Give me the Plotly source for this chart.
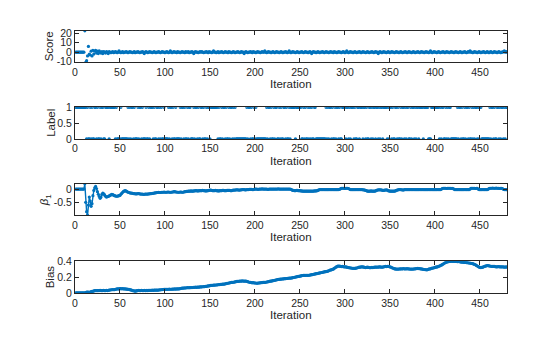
import plotly.graph_objects as go

# ---------------- data ----------------
iterations = list(range(1, 481))

score = [
    0,0,0,0,0,0,0,0,0,0,22.5,-10.8,-9,-4,6,-2,-3,1,-4,2,
    -2,1,2,-1,1,-1.5,1.5,0,-1,0.5,-1.5,0.5,0,-1,0.5,0,-1.5,0.5,0,-0.5,
    0,0.5,-0.5,0,0.5,0,-0.5,0,1.5,0,-0.5,0,0.5,-0.5,0,0,0.5,0,-0.5,0,
    0.5,0,0,-0.5,0,0.5,-0.5,0,0,0.5,0,-0.5,0,0,0.5,0,-1.5,0,0.5,0,
    -0.5,0,0.5,0,0,-0.5,0,0.5,0,-0.5,0,0,0.5,0,-0.5,0,0.5,0,0,-0.5,
    0,0.5,0,-0.5,0,1.5,0,-0.5,0,0.5,0,0,-0.5,0.5,0,0,-0.5,0,0.5,0,
    0,-0.5,0.5,0,0,0.5,-0.5,0,0,0.5,0,-1.5,0,0.5,0,0,-0.5,0,0.5,0,
    0.5,0,-0.5,0,0,0.5,0,-0.5,0.5,0,0,-0.5,0,1.5,0,0,-0.5,0,0.5,-0.5,
    0,0,0.5,0,-0.5,0,0.5,0,0,-0.5,0.5,0,0,-0.5,0,0.5,0,-0.5,0,0,
    0.5,0,-0.5,0,0.5,0,0,-1.5,0,0.5,0,-0.5,0,0,0.5,0,-0.5,0.5,0,0,
    -0.5,0,0.5,0,0,-0.5,0,0.5,0,0,1.5,0,-0.5,0,0.5,0,0,-0.5,0,0.5,
    0,-0.5,0,0.5,0,0,-0.5,0,0.5,0,-0.5,0,0,0.5,0,-0.5,0,1.5,0,-0.5,
    0,0.5,0,0,-0.5,0,0.5,0,-0.5,0,0,0.5,0,-0.5,0,0.5,0,0,-0.5,0,
    0.5,0,-1.5,0,0.5,0,0,-0.5,0,0.5,0,-0.5,0,0,0.5,0,-0.5,0,0.5,0,
    0,-0.5,0,0.5,0,0,-0.5,0.5,0,0,-0.5,0,0.5,0,0,-0.5,0,0.5,0,-0.5,
    0,1.5,0,-0.5,0,0.5,0,0,-0.5,0,0.5,0,-0.5,0,0,0.5,0,-0.5,0,0.5,
    0,0,-0.5,0,0.5,0,-0.5,0,0,0.5,0,-0.5,0,0.5,0,0,-1.5,0,0.5,0,
    -0.5,0,0.5,0,0,-0.5,0,0.5,0,-0.5,0,0.5,0,0,-0.5,0,0.5,0,0,-0.5,
    0,0.5,0,-0.5,0,0,0.5,0,-0.5,0,0.5,0,0,-0.5,0,0.5,0,-0.5,0,0,
    0.5,0,-0.5,0,0.5,0,0,-0.5,0,0.5,0,0,-0.5,0,1.5,0,-0.5,0,0.5,0,
    0,-0.5,0,0.5,0,-0.5,0,0,0.5,0,-0.5,0,0.5,0,0,-0.5,0,0.5,0,0,
    -0.5,0,0.5,0,0,-0.5,0,0.5,0,-0.5,0,0,0.5,0,-0.5,0,0.5,0,1.5,0,
    0,-0.5,0,0.5,0,0,-0.5,0,0.5,0,-0.5,0,0,0.5,0,-0.5,0,0.5,0,-0.5,
    0,0.5,0,-0.5,0,0.5,0,0,-0.5,0,0.5,0,-0.5,0,0,0.5,1.5,0,0.5,0,
]

label = [
    1,1,1,1,1,1,1,1,1,1,1,1,0,1,0,0,1,0,1,0,
    0,1,1,0,1,0,0,1,0,1,1,0,0,1,1,1,1,0,1,1,
    1,1,1,1,0,1,0,0,0,0,1,0,0,0,0,0,0,0,1,0,
    1,0,1,1,0,1,0,0,0,1,0,1,1,0,1,0,0,0,1,0,
    0,1,0,1,1,1,0,1,0,0,1,1,0,1,0,1,0,0,1,0,
    0,0,0,1,0,1,1,0,1,0,0,1,0,0,0,0,1,0,1,1,
    0,1,0,0,1,0,1,1,0,0,0,1,0,1,1,0,1,0,0,1,
    1,0,1,0,0,1,0,1,1,0,1,1,1,1,1,1,1,1,0,1,
    0,0,1,0,1,1,0,1,0,0,1,0,1,1,0,1,0,1,0,0,
    0,0,0,0,0,0,0,0,0,0,1,0,1,1,0,1,0,0,1,0,
    1,0,0,0,0,0,0,0,0,0,0,0,1,0,1,1,0,1,0,0,
    1,0,1,1,0,0,1,0,1,0,0,1,1,0,1,0,0,1,0,1,
    1,1,1,1,0,1,1,1,1,1,1,0,0,1,0,1,0,0,1,0,
    1,0,1,0,0,1,1,0,0,0,0,0,0,0,0,0,0,0,1,0,
    1,0,1,1,0,1,0,0,1,0,1,1,0,1,0,0,1,1,1,1,
    0,1,1,0,1,0,1,1,1,0,1,0,0,1,1,0,1,1,1,0,
    1,1,0,1,0,0,1,1,0,1,0,1,1,0,1,1,0,1,0,1,
    1,0,1,1,1,1,0,1,0,1,1,0,1,0,0,1,1,0,1,0,
    0,1,0,1,1,0,1,0,1,1,0,0,1,0,1,1,0,1,0,1,
    1,0,1,1,1,1,0,1,1,1,1,1,0,0,0,1,1,1,1,1,
    1,1,1,1,0,1,0,1,1,0,0,1,0,1,0,1,1,0,0,0,
    0,0,0,0,1,0,1,1,0,1,0,0,1,0,1,1,0,1,0,0,
    1,0,1,0,1,1,0,1,0,1,1,0,0,0,0,0,0,0,0,0,
    1,0,1,1,0,1,0,0,1,1,0,1,0,1,1,0,1,0,1,1,
]

beta1 = [
    0,0,0,0,0,0,0,0,0,0,0.2,-0.5,-0.85,-0.98,-0.6,-0.3,-0.45,-0.65,-0.55,-0.25,
    -0.05,0.05,0.1,0.02,-0.1,-0.2,-0.28,-0.35,-0.3,-0.2,-0.15,-0.18,-0.22,-0.27,-0.3,-0.29,-0.28,-0.26,-0.24,-0.22,
    -0.2,-0.21,-0.23,-0.25,-0.26,-0.27,-0.27,-0.26,-0.25,-0.24,-0.2,-0.16,-0.12,-0.09,-0.07,-0.06,-0.08,-0.1,-0.12,-0.13,
    -0.14,-0.15,-0.15,-0.16,-0.17,-0.17,-0.18,-0.18,-0.18,-0.17,-0.17,-0.18,-0.19,-0.19,-0.19,-0.2,-0.2,-0.19,-0.19,-0.19,
    -0.19,-0.18,-0.18,-0.17,-0.17,-0.16,-0.16,-0.15,-0.14,-0.14,-0.13,-0.13,-0.12,-0.13,-0.13,-0.12,-0.12,-0.12,-0.11,-0.12,
    -0.12,-0.12,-0.11,-0.11,-0.12,-0.12,-0.12,-0.11,-0.11,-0.1,-0.1,-0.11,-0.11,-0.12,-0.12,-0.12,-0.11,-0.11,-0.12,-0.12,
    -0.11,-0.1,-0.1,-0.09,-0.09,-0.08,-0.08,-0.08,-0.07,-0.08,-0.08,-0.07,-0.07,-0.06,-0.06,-0.07,-0.07,-0.06,-0.06,-0.06,
    -0.06,-0.05,-0.06,-0.06,-0.07,-0.07,-0.06,-0.06,-0.05,-0.04,-0.04,-0.05,-0.06,-0.06,-0.06,-0.05,-0.06,-0.06,-0.07,-0.07,
    -0.06,-0.06,-0.06,-0.05,-0.05,-0.06,-0.06,-0.06,-0.05,-0.05,-0.05,-0.05,-0.06,-0.06,-0.05,-0.04,-0.04,-0.04,-0.03,-0.03,
    -0.03,-0.04,-0.04,-0.03,-0.03,-0.02,-0.02,-0.02,-0.03,-0.03,-0.02,-0.02,-0.02,-0.01,-0.01,-0.01,-0.02,-0.02,-0.01,0,
    0,0,-0.01,-0.01,0,0,0,0.01,0,0,0,0,0,-0.01,-0.01,0,0,0,0,0,
    0,0,0,0,0,0.01,0,0,0,0,0,0,0,0,0,0,0,0,0,-0.01,
    -0.03,-0.05,-0.05,-0.06,-0.06,-0.05,-0.05,-0.06,-0.06,-0.06,-0.07,-0.07,-0.08,-0.08,-0.08,-0.08,-0.08,-0.08,-0.08,-0.08,
    -0.08,-0.08,-0.08,-0.08,-0.08,-0.07,-0.07,-0.07,-0.06,-0.05,-0.03,-0.02,-0.02,-0.02,-0.02,-0.02,-0.02,-0.02,-0.02,-0.02,
    -0.02,-0.02,-0.02,-0.02,-0.02,-0.02,-0.02,-0.02,-0.02,-0.02,-0.02,-0.02,-0.02,-0.01,0.01,0.03,0.03,0.03,0.03,0.02,
    0.03,0.03,0.03,0.02,0,-0.02,-0.02,-0.02,-0.02,-0.02,-0.02,-0.02,-0.02,-0.02,-0.02,-0.02,-0.02,-0.02,-0.02,-0.03,
    -0.03,-0.04,-0.05,-0.06,-0.08,-0.08,-0.08,-0.08,-0.07,-0.08,-0.08,-0.08,-0.08,-0.07,-0.05,-0.04,-0.03,-0.03,-0.03,-0.03,
    -0.04,-0.05,-0.05,-0.04,-0.04,-0.03,-0.04,-0.06,-0.07,-0.08,-0.08,-0.08,-0.08,-0.08,-0.08,-0.07,-0.05,-0.04,-0.03,-0.02,
    -0.02,-0.02,-0.03,-0.03,-0.04,-0.02,-0.02,-0.02,-0.02,-0.02,-0.02,-0.02,-0.02,-0.02,-0.02,-0.02,-0.02,-0.02,-0.02,-0.02,
    -0.02,-0.02,-0.02,-0.02,-0.02,-0.02,-0.02,-0.02,-0.02,-0.02,-0.02,-0.02,-0.02,-0.02,-0.02,-0.02,-0.02,-0.02,-0.02,-0.02,
    -0.02,-0.02,-0.02,-0.02,-0.02,-0.02,-0.01,0.02,0.03,0.03,0.03,0.03,0.02,0.03,0.03,0.03,0.03,0.02,0.03,0.02,
    0,-0.02,-0.02,-0.02,-0.02,-0.02,-0.02,-0.02,-0.02,-0.02,-0.02,-0.02,-0.02,-0.02,-0.02,-0.02,-0.02,-0.02,0,0.03,
    0.03,0.03,0.03,0.03,0.02,0.03,0.03,0,-0.02,-0.02,-0.02,-0.02,-0.02,-0.02,-0.02,-0.02,-0.02,-0.02,-0.01,0.02,
    0.03,0.03,0.03,0.04,0.03,0.03,0.03,0.04,0.03,0.03,0.03,0.02,0.03,0.03,0.02,-0.01,-0.02,-0.02,-0.02,-0.02,
]

bias = [
    0,0,0,0,0,0,0,0,0,0,0,0.005,0.01,0.01,0.01,0.008,0.01,0.015,0.02,0.02,
    0.025,0.028,0.03,0.03,0.028,0.03,0.03,0.032,0.03,0.03,0.03,0.032,0.03,0.03,0.033,0.03,0.032,0.035,0.037,0.04,
    0.04,0.042,0.04,0.042,0.045,0.048,0.05,0.052,0.05,0.053,0.055,0.052,0.053,0.052,0.05,0.05,0.048,0.047,0.045,0.045,
    0.042,0.038,0.035,0.03,0.027,0.025,0.022,0.025,0.028,0.03,0.032,0.03,0.03,0.032,0.03,0.03,0.032,0.03,0.03,0.032,
    0.03,0.032,0.033,0.032,0.033,0.035,0.033,0.035,0.035,0.036,0.035,0.035,0.037,0.038,0.04,0.04,0.042,0.043,0.045,0.045,
    0.045,0.046,0.045,0.046,0.047,0.046,0.046,0.047,0.048,0.048,0.05,0.049,0.05,0.05,0.05,0.052,0.055,0.058,0.06,0.06,
    0.062,0.063,0.062,0.065,0.066,0.065,0.066,0.066,0.068,0.067,0.068,0.07,0.07,0.072,0.071,0.072,0.072,0.074,0.075,0.076,
    0.077,0.078,0.079,0.08,0.082,0.083,0.085,0.088,0.09,0.092,0.094,0.095,0.097,0.098,0.098,0.1,0.1,0.102,0.103,0.105,
    0.105,0.107,0.108,0.11,0.11,0.112,0.115,0.118,0.12,0.122,0.125,0.128,0.13,0.132,0.133,0.135,0.137,0.14,0.142,0.145,
    0.145,0.147,0.15,0.148,0.15,0.152,0.15,0.15,0.148,0.15,0.147,0.142,0.138,0.135,0.132,0.13,0.128,0.13,0.127,0.125,
    0.125,0.122,0.123,0.125,0.127,0.128,0.13,0.13,0.132,0.133,0.133,0.135,0.138,0.14,0.142,0.145,0.148,0.15,0.152,0.155,
    0.157,0.16,0.162,0.165,0.168,0.17,0.172,0.173,0.175,0.176,0.177,0.178,0.18,0.18,0.182,0.183,0.185,0.186,0.187,0.188,
    0.19,0.192,0.195,0.198,0.2,0.203,0.205,0.208,0.21,0.213,0.215,0.218,0.22,0.222,0.222,0.222,0.223,0.222,0.222,0.223,
    0.225,0.227,0.23,0.232,0.235,0.237,0.24,0.243,0.245,0.248,0.25,0.252,0.255,0.258,0.26,0.263,0.265,0.268,0.27,0.272,
    0.275,0.28,0.285,0.29,0.292,0.297,0.3,0.31,0.318,0.325,0.332,0.338,0.34,0.338,0.335,0.333,0.335,0.332,0.33,0.33,
    0.328,0.325,0.322,0.32,0.318,0.315,0.315,0.312,0.31,0.312,0.31,0.313,0.315,0.318,0.322,0.325,0.327,0.328,0.33,0.328,
    0.325,0.322,0.32,0.322,0.325,0.322,0.32,0.318,0.32,0.322,0.32,0.322,0.325,0.325,0.327,0.325,0.327,0.328,0.328,0.327,
    0.325,0.327,0.33,0.332,0.335,0.333,0.335,0.335,0.333,0.33,0.325,0.32,0.315,0.31,0.305,0.303,0.3,0.302,0.3,0.302,
    0.303,0.305,0.303,0.305,0.307,0.305,0.303,0.305,0.306,0.304,0.303,0.302,0.3,0.302,0.3,0.302,0.303,0.305,0.307,0.308,
    0.31,0.308,0.306,0.305,0.303,0.3,0.298,0.296,0.295,0.293,0.292,0.295,0.3,0.303,0.305,0.31,0.313,0.315,0.318,0.322,
    0.325,0.328,0.33,0.335,0.34,0.345,0.35,0.357,0.365,0.372,0.38,0.385,0.39,0.393,0.395,0.397,0.398,0.4,0.4,0.398,
    0.4,0.398,0.397,0.398,0.395,0.397,0.395,0.393,0.39,0.39,0.388,0.387,0.385,0.385,0.383,0.382,0.38,0.378,0.377,0.375,
    0.372,0.37,0.365,0.36,0.355,0.347,0.34,0.333,0.327,0.322,0.32,0.322,0.325,0.33,0.335,0.34,0.343,0.345,0.345,0.343,
    0.34,0.337,0.335,0.335,0.337,0.335,0.332,0.33,0.33,0.332,0.333,0.33,0.328,0.33,0.33,0.328,0.325,0.327,0.328,0.327,
]

x_ticks = [0, 50, 100, 150, 200, 250, 300, 350, 400, 450]
panel_titles = ["Score", "Label", "<i>β</i><sub>1</sub>", "Bias"]
y_tickvals = [[-10, 0, 10, 20], [0, 0.5, 1], [-1, -0.5, 0], [0, 0.2, 0.4]]
y_ticktext = [["-10", "0", "10", "20"], ["0", "0.5", "1"], ["-1", "-0.5", "0"], ["0", "0.2", "0.4"]]
y_ranges = [[-10.8, 22.5], [0, 1], [-0.99, 0.2], [0, 0.4]]
x_label = "Iteration"

# ---------------- styling ----------------
W, H = 560, 337
BLUE = "#0072BD"
AX = "#262626"
FONT = "Liberation Sans, Arial, Helvetica, sans-serif"

ax_left, ax_right = 72.3, 506.7
ax_tops = [25.7, 105.0, 184.3, 264.7]
ax_h = 32.8
ytitle_x = [46.0, 48.0, 42.0, 47.5]

fig = go.Figure()

series = [
    (score, "markers", 3.2),
    (label, "markers", 3.4),
    (beta1, "lines+markers", 3.2),
    (bias, "lines+markers", 3.2),
]

for i, (vals, mode, msize) in enumerate(series):
    sfx = "" if i == 0 else str(i + 1)
    tr = dict(
        x=iterations, y=vals, mode=mode,
        xaxis="x" + sfx, yaxis="y" + sfx,
        marker=dict(color=BLUE, size=msize, line=dict(width=0)),
        showlegend=False, hoverinfo="skip", cliponaxis=True,
    )
    if "lines" in mode:
        tr["line"] = dict(color=BLUE, width=1.4)
    fig.add_trace(go.Scatter(**tr))

    top = ax_tops[i]
    bot = top + ax_h
    common = dict(
        showline=True, linecolor=AX, linewidth=1, mirror="ticks",
        ticks="inside", ticklen=4, tickwidth=1, tickcolor=AX,
        showgrid=False, zeroline=False,
        tickfont=dict(family=FONT, size=10.5, color=AX),
    )
    fig.layout["xaxis" + sfx] = dict(
        domain=[ax_left / W, ax_right / W], range=[0, 480],
        anchor="y" + sfx, tickvals=x_ticks, **common,
    )
    fig.layout["yaxis" + sfx] = dict(
        domain=[1 - bot / H, 1 - top / H], range=y_ranges[i],
        anchor="x" + sfx, tickvals=y_tickvals[i], ticktext=y_ticktext[i], **common,
    )
    fig.add_annotation(
        text=panel_titles[i], xref="paper", yref="paper",
        x=ytitle_x[i] / W, y=1 - (top + ax_h / 2) / H,
        textangle=-90, showarrow=False, xanchor="center", yanchor="middle",
        font=dict(family=FONT, size=11.5, color=AX),
    )
    fig.add_annotation(
        text=x_label, xref="paper", yref="paper",
        x=(ax_left + ax_right) / 2 / W, y=1 - (bot + 22.5) / H,
        showarrow=False, xanchor="center", yanchor="middle",
        font=dict(family=FONT, size=11.5, color=AX),
    )

fig.update_layout(
    width=W, height=H, margin=dict(l=0, r=0, t=0, b=0),
    paper_bgcolor="white", plot_bgcolor="white",
    font=dict(family=FONT, size=10.5, color=AX),
)

fig.write_html("out.html")
